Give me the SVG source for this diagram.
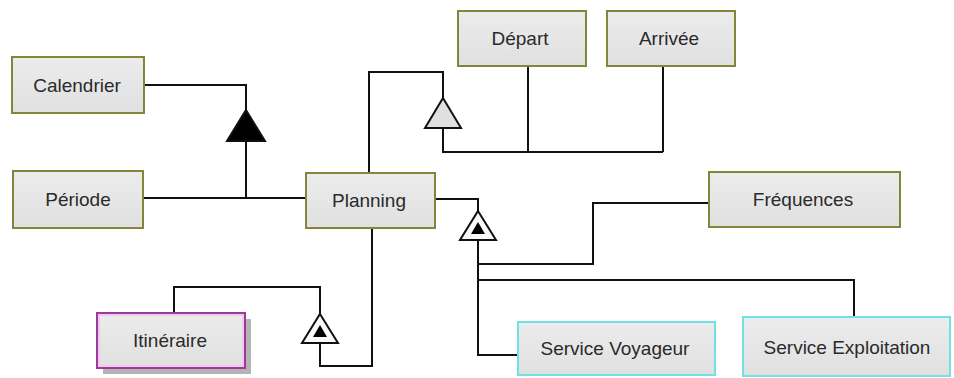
<svg xmlns="http://www.w3.org/2000/svg" width="954" height="378" viewBox="0 0 954 378">
<defs>
<linearGradient id="g" x1="0" y1="0" x2="0" y2="1">
<stop offset="0" stop-color="#ececec"/>
<stop offset="1" stop-color="#e0e0e0"/>
</linearGradient>
</defs>
<style>
.box{fill:url(#g);stroke:#85853a;stroke-width:2}
.cyan{fill:url(#g);stroke:#6fe3e3;stroke-width:2}
.purple{fill:url(#g);stroke:#9a3a9a;stroke-width:2}
.inner{fill:none;stroke:#f0c8f0;stroke-width:2}
.shadow{fill:#b4b4b4}
.lbl{font-family:"Liberation Sans",Arial,sans-serif;font-size:19px;fill:#2a2a2a;text-anchor:middle}
.ln{fill:none;stroke:#111;stroke-width:2}
.tri{stroke:#111;stroke-width:2;stroke-linejoin:miter}
</style>
<rect width="954" height="378" fill="#fff"/>
<g id="connectors">
<path class="ln" d="M144,85 H246 V110"/>
<polygon class="tri" fill="#000" points="246,110 265,141 227,141"/>
<path class="ln" d="M246,141 V198"/>
<path class="ln" d="M143,198 H306"/>
<path class="ln" d="M369,173 V72 H443 V98"/>
<polygon class="tri" fill="#e0e0e0" points="443,98 461,128 425,128"/>
<path class="ln" d="M443,128 V152 H663"/>
<path class="ln" d="M528,66 V152"/>
<path class="ln" d="M663,66 V152"/>
<path class="ln" d="M435,199 H478 V211"/>
<polygon class="tri" fill="#fafafa" points="478,211 496,240 460,240"/>
<polygon fill="#000" points="478,222 485,234 471,234"/>
<path class="ln" d="M478,240 V355 H518"/>
<path class="ln" d="M478,264 H593 V203 H709"/>
<path class="ln" d="M478,280 H854 V317"/>
<path class="ln" d="M372,228 V366 H320 V343"/>
<polygon class="tri" fill="#fafafa" points="320,314 338,343 302,343"/>
<polygon fill="#000" points="320,325 327,337 313,337"/>
<path class="ln" d="M320,314 V287 H174 V313"/>
</g>
<g id="calendrier"><rect class="box" x="12" y="57" width="132" height="56"/><text class="lbl" x="77" y="92">Calendrier</text></g>
<g id="periode"><rect class="box" x="13" y="171" width="130" height="57"/><text class="lbl" x="78" y="206">Période</text></g>
<g id="planning"><rect class="box" x="306" y="173" width="129" height="55"/><text class="lbl" x="369" y="207">Planning</text></g>
<g id="depart"><rect class="box" x="458" y="11" width="128" height="55"/><text class="lbl" x="520" y="45">Départ</text></g>
<g id="arrivee"><rect class="box" x="607" y="11" width="128" height="55"/><text class="lbl" x="669" y="45">Arrivée</text></g>
<g id="frequences"><rect class="box" x="709" y="172" width="191" height="55"/><text class="lbl" x="803" y="206">Fréquences</text></g>
<g id="service-voyageur"><rect class="cyan" x="518" y="322" width="197" height="53"/><text class="lbl" x="615" y="355">Service Voyageur</text></g>
<g id="service-exploitation"><rect class="cyan" x="743" y="317" width="207" height="59"/><text class="lbl" x="847" y="354">Service Exploitation</text></g>
<g id="itineraire"><rect class="shadow" x="103" y="319" width="148" height="55"/><rect class="purple" x="97" y="313" width="148" height="55"/><rect class="inner" x="99" y="315" width="144" height="51"/><text class="lbl" x="170" y="347">Itinéraire</text></g>
</svg>
